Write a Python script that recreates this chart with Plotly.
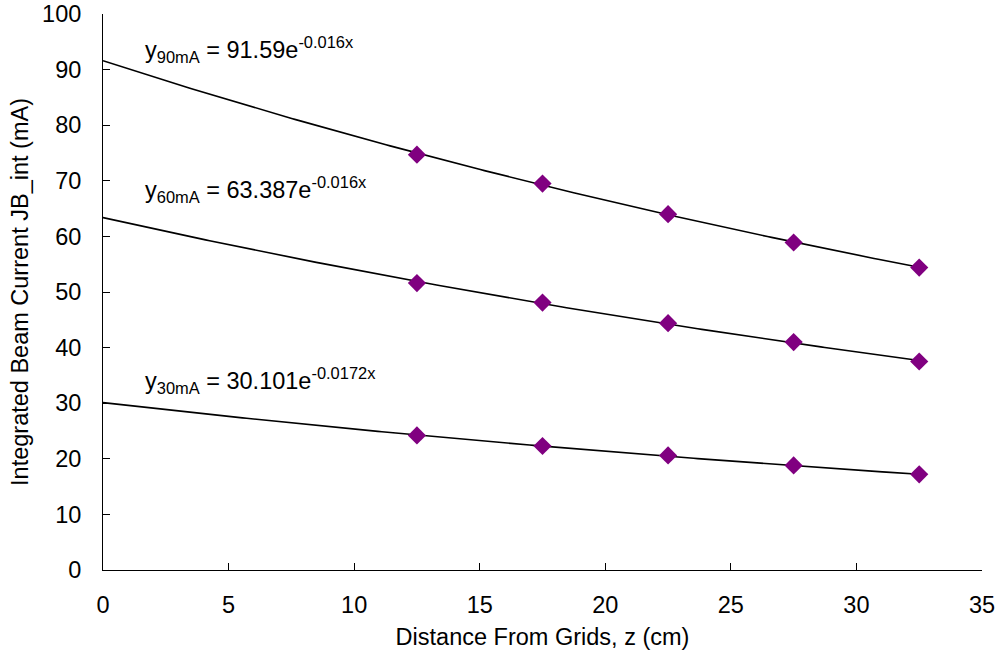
import numpy as np
import plotly.graph_objects as go

z_cm = [12.5, 17.5, 22.5, 27.5, 32.5]
jb_90mA = [74.7, 69.5, 64.0, 58.9, 54.4]
jb_60mA = [51.6, 48.1, 44.4, 41.0, 37.5]
jb_30mA = [24.2, 22.3, 20.6, 18.8, 17.2]

fit_labels = ["90mA", "60mA", "30mA"]
fit_a = [91.59, 63.387, 30.101]
fit_b = [-0.016, -0.016, -0.0172]
fit_text = ["91.59", "63.387", "30.101"]
fit_exp = ["-0.016x", "-0.016x", "-0.0172x"]
label_x = [1.6, 1.58, 1.58]
label_y = [93.6, 68.4, 34.1]

FONT = "Liberation Sans, Arial, sans-serif"
FS = 23.5
fig = go.Figure()

xs = np.linspace(0, 32.5, 200)
for a, b in zip(fit_a, fit_b):
    fig.add_trace(go.Scatter(x=xs, y=a * np.exp(b * xs), mode="lines",
                             line=dict(color="black", width=1.6),
                             showlegend=False, hoverinfo="skip"))

for ys in [jb_90mA, jb_60mA, jb_30mA]:
    fig.add_trace(go.Scatter(x=z_cm, y=ys, mode="markers",
                             marker=dict(symbol="diamond", size=14, color="#800080"),
                             showlegend=False))

for lab, t, e, lx, ly in zip(fit_labels, fit_text, fit_exp, label_x, label_y):
    fig.add_annotation(x=lx, y=ly, xanchor="left", yanchor="middle", showarrow=False,
                       text=f"y<sub>{lab}</sub> = {t}e<sup>{e}</sup>",
                       font=dict(family=FONT, size=FS, color="black"))

axis_common = dict(showgrid=False, zeroline=False, showline=True, linecolor="black",
                   linewidth=1, ticks="inside", ticklen=7, tickcolor="black",
                   automargin=False,
                   tickfont=dict(family=FONT, size=FS, color="black"))

fig.update_xaxes(range=[0, 35], dtick=5, tick0=0, ticklabelstandoff=14,
                 title=dict(text="Distance From Grids, z (cm)",
                            font=dict(family=FONT, size=FS, color="black"), standoff=11),
                 **axis_common)
fig.update_yaxes(range=[0, 100], dtick=10, tick0=0, ticklabelstandoff=16,
                 title=dict(text="Integrated Beam Current JB_int (mA)",
                            font=dict(family=FONT, size=FS, color="black"), standoff=6),
                 **axis_common)

fig.update_layout(width=1001, height=662, plot_bgcolor="white", paper_bgcolor="white",
                  margin=dict(l=103, r=19, t=14, b=92))

fig.write_html("out.html")
